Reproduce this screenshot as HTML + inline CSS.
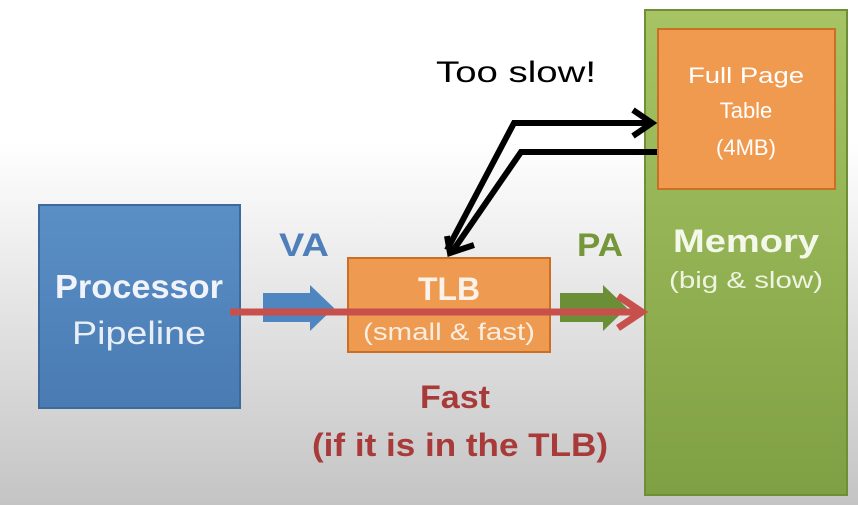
<!DOCTYPE html>
<html><head><style>
html,body{margin:0;padding:0;width:858px;height:505px;overflow:hidden}
svg{display:block}
text{font-family:"Liberation Sans",sans-serif}
</style></head><body>
<svg width="858" height="505" viewBox="0 0 858 505" xmlns="http://www.w3.org/2000/svg">
<defs>
<linearGradient id="bg" x1="0" y1="0" x2="0" y2="1">
<stop offset="0" stop-color="#ffffff"/><stop offset="0.28" stop-color="#ffffff"/><stop offset="1" stop-color="#c4c4c4"/>
</linearGradient>
<linearGradient id="bl" x1="0" y1="0" x2="0" y2="1">
<stop offset="0" stop-color="#5a8fc6"/><stop offset="1" stop-color="#4a7bb3"/>
</linearGradient>
<linearGradient id="gr" x1="0" y1="0" x2="0" y2="1">
<stop offset="0" stop-color="#a6c464"/><stop offset="1" stop-color="#7fa043"/>
</linearGradient>
</defs>
<rect width="858" height="505" fill="url(#bg)"/>
<rect x="645" y="10" width="202" height="485" fill="url(#gr)" stroke="#6f8f36" stroke-width="2"/>
<rect x="658" y="29" width="177" height="160" fill="#f09a50" stroke="#c97025" stroke-width="2"/>
<text x="746" y="83" font-size="22" fill="#fff" text-anchor="middle" textLength="116" lengthAdjust="spacingAndGlyphs">Full Page</text>
<text x="746" y="118" font-size="22" fill="#fff" text-anchor="middle">Table</text>
<text x="746" y="155" font-size="22" fill="#fff" text-anchor="middle">(4MB)</text>
<text x="746" y="252" font-size="32" font-weight="bold" fill="#f4f8ea" text-anchor="middle" textLength="146" lengthAdjust="spacingAndGlyphs">Memory</text>
<text x="746" y="288" font-size="23" fill="#eef4e0" text-anchor="middle" textLength="154" lengthAdjust="spacingAndGlyphs">(big &amp; slow)</text>
<rect x="39" y="205" width="201" height="203" fill="url(#bl)" stroke="#3d6a9c" stroke-width="2"/>
<text x="139" y="298" font-size="33" font-weight="bold" fill="#f0f4fa" text-anchor="middle" textLength="168" lengthAdjust="spacingAndGlyphs">Processor</text>
<text x="139" y="344" font-size="32" fill="#e8eef6" text-anchor="middle" textLength="134" lengthAdjust="spacingAndGlyphs">Pipeline</text>
<rect x="348" y="258" width="202" height="94" fill="#ee9a50" stroke="#c97025" stroke-width="2"/>
<text x="449" y="300" font-size="32" font-weight="bold" fill="#fbf3ea" text-anchor="middle" textLength="62" lengthAdjust="spacingAndGlyphs">TLB</text>
<text x="449" y="340" font-size="24" fill="#fbeee0" text-anchor="middle" textLength="172" lengthAdjust="spacingAndGlyphs">(small &amp; fast)</text>
<polygon points="263,293 310,293 310,285 334,308 310,331 310,322 263,322" fill="#4f86c0"/>
<polygon points="560,293 603,293 603,285 627,308 603,331 603,322 560,322" fill="#6a8f36"/>
<text x="304" y="256" font-size="32" font-weight="bold" fill="#4f7fbb" text-anchor="middle" textLength="50" lengthAdjust="spacingAndGlyphs">VA</text>
<text x="600" y="256" font-size="32" font-weight="bold" fill="#76963a" text-anchor="middle" textLength="46" lengthAdjust="spacingAndGlyphs">PA</text>
<line x1="230" y1="312" x2="638" y2="312" stroke="#c8504c" stroke-width="7"/>
<polyline points="618,296 642,312 618,328" fill="none" stroke="#c8504c" stroke-width="7"/>
<text x="455" y="408" font-size="32" font-weight="bold" fill="#a83a3a" text-anchor="middle" textLength="70" lengthAdjust="spacingAndGlyphs">Fast</text>
<text x="460" y="456" font-size="32" font-weight="bold" fill="#a83a3a" text-anchor="middle" textLength="296" lengthAdjust="spacingAndGlyphs">(if it is in the TLB)</text>
<polyline points="447,250 514,123 652,123" fill="none" stroke="#000" stroke-width="6"/>
<polyline points="633,110 652,123 633,136" fill="none" stroke="#000" stroke-width="6"/>
<polyline points="657,152 521,152 452,252" fill="none" stroke="#000" stroke-width="6"/>
<polyline points="447,236 450,253 474,245" fill="none" stroke="#000" stroke-width="6"/>
<text x="516" y="82" font-size="30" fill="#000" text-anchor="middle" textLength="160" lengthAdjust="spacingAndGlyphs">Too slow!</text>
</svg>
</body></html>
